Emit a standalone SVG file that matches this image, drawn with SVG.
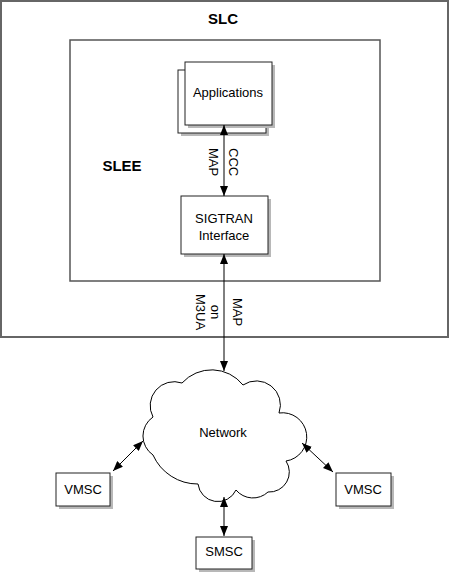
<svg xmlns="http://www.w3.org/2000/svg" width="450" height="573" viewBox="0 0 450 573">
<style>
text{font-family:"Liberation Sans",Arial,sans-serif;fill:#000}
.t{font-size:13px}
.b{font-size:15px;font-weight:bold}
.box{fill:#fff;stroke:#222;stroke-width:1}
.sh{fill:#b8b8b8}
.frame{fill:#fff;stroke:#666;stroke-width:2}
.line{stroke:#000;stroke-width:1;fill:none;marker-start:url(#ah);marker-end:url(#ah)}
</style>
<defs>
<marker id="ah" viewBox="0 0 10 8" refX="10" refY="4" markerWidth="10" markerHeight="8" markerUnits="userSpaceOnUse" orient="auto-start-reverse">
<path d="M0,0 L10,4 L0,8 Z" fill="#000"/>
</marker>
</defs>
<g id="slc">
<rect class="frame" x="1" y="1" width="447" height="336"/>
<text class="b" x="223" y="24" text-anchor="middle">SLC</text>
</g>
<g id="slee">
<rect x="70" y="40" width="310" height="241" fill="#fff" stroke="#555" stroke-width="1.5"/>
<text class="b" x="122" y="171" text-anchor="middle">SLEE</text>
</g>
<g id="applications">
<rect class="sh" x="181" y="73" width="88" height="63"/>
<rect class="box" x="178" y="70" width="88" height="63"/>
<rect class="sh" x="188" y="65" width="87" height="63"/>
<rect class="box" x="185" y="62" width="87" height="63"/>
<text class="t" x="228" y="97" text-anchor="middle">Applications</text>
</g>
<g id="sigtran">
<rect class="sh" x="184" y="199" width="87" height="58"/>
<rect class="box" x="181" y="196" width="87" height="58"/>
<text class="t" x="224" y="223" text-anchor="middle">SIGTRAN</text>
<text class="t" x="224" y="240" text-anchor="middle">Interface</text>
</g>
<g id="network">
<path d="M153,455 A23,23 0 0 1 153,417 A24,24 0 0 1 182,383 A40,40 0 0 1 243,385 A24,24 0 0 1 279,413 A24,24 0 0 1 286,461 A20,20 0 0 1 268,492 A22,22 0 0 1 236,490 A20,20 0 0 1 198,484 A49,49 0 0 1 153,455 Z" fill="#fff" stroke="#000" stroke-width="1"/>
<text class="t" x="223" y="437" text-anchor="middle">Network</text>
</g>
<g id="vmsc-left">
<rect class="sh" x="59" y="476" width="54" height="33"/>
<rect class="box" x="56" y="473" width="54" height="33"/>
<text class="t" x="83" y="494" text-anchor="middle">VMSC</text>
</g>
<g id="vmsc-right">
<rect class="sh" x="339" y="476" width="55" height="33"/>
<rect class="box" x="336" y="473" width="55" height="33"/>
<text class="t" x="363" y="494" text-anchor="middle">VMSC</text>
</g>
<g id="smsc">
<rect class="sh" x="199" y="540" width="56" height="32"/>
<rect class="box" x="196" y="537" width="56" height="32"/>
<text class="t" x="224" y="556" text-anchor="middle">SMSC</text>
</g>
<g id="connectors">
<line class="line" x1="224" y1="125" x2="224" y2="196"/>
<line class="line" x1="224" y1="254" x2="224" y2="371"/>
<line class="line" x1="143" y1="441" x2="113" y2="471"/>
<line class="line" x1="302" y1="443" x2="333" y2="472"/>
<line class="line" x1="224" y1="497" x2="224" y2="536"/>
<text class="t" transform="translate(229,148) rotate(90)">CCC</text>
<text class="t" transform="translate(209,148) rotate(90)">MAP</text>
<text class="t" transform="translate(233,312) rotate(90)" text-anchor="middle">MAP</text>
<text class="t" transform="translate(211,312) rotate(90)" text-anchor="middle">on</text>
<text class="t" transform="translate(196,312) rotate(90)" text-anchor="middle">M3UA</text>
</g>
</svg>
